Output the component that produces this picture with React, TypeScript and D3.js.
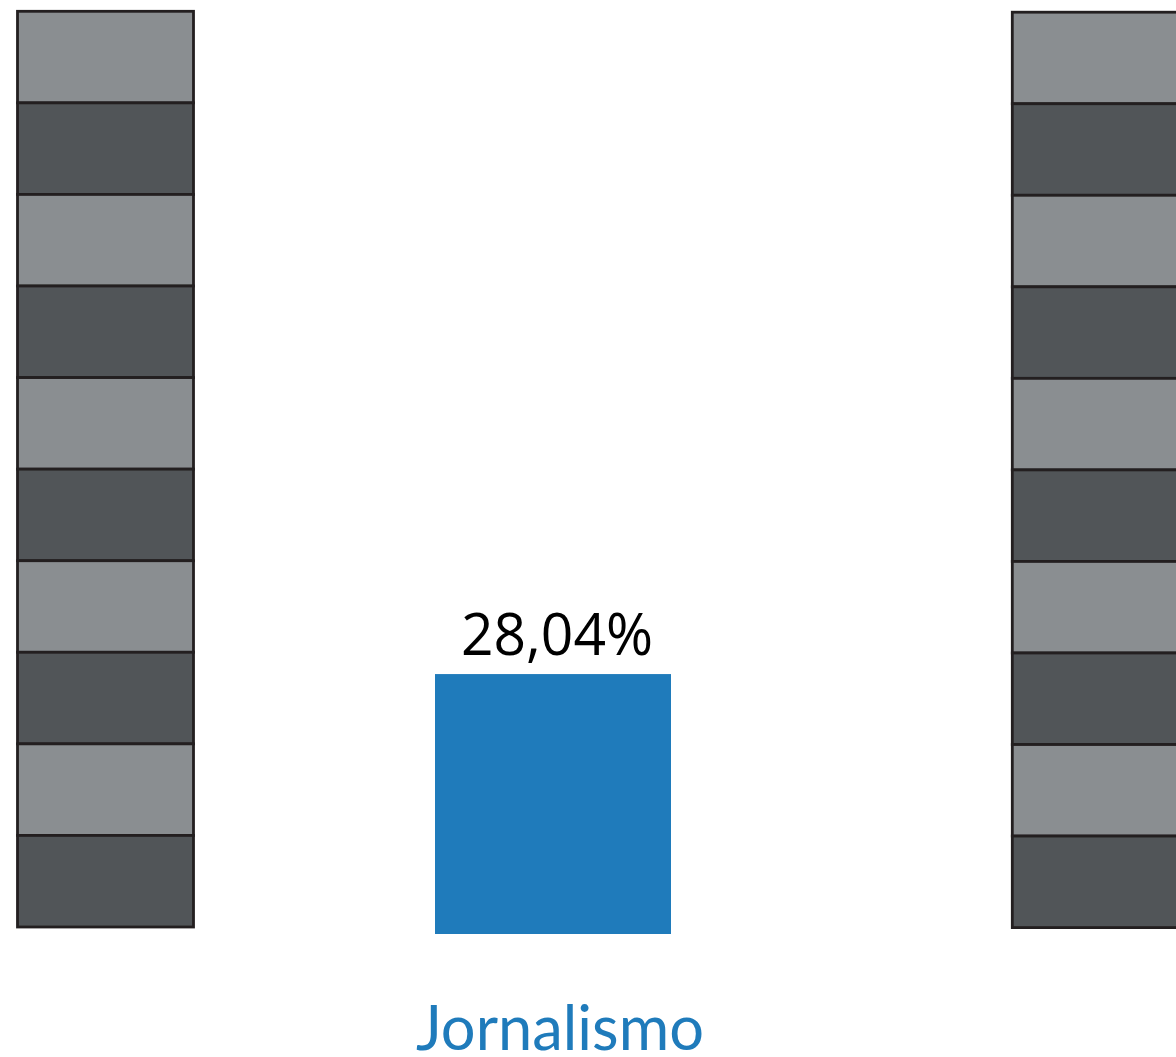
import React from "react";
import * as d3 from "d3";

// Data
const categories = ["Jornalismo"];
const values = [28.04];
const valueLabels = ["28,04%"];
// decorative scale columns: 10 segments, alternating shades (top to bottom)
const segmentShades = ["light", "dark", "light", "dark", "light", "dark", "light", "dark", "light", "dark"];
const scaleColumns = ["left", "right"];

const W = 1176;
const H = 1057;

export default function App() {
  const shadeColor: Record<string, string> = { light: "#8a8e91", dark: "#515558" };

  // Bar scale (0–100%)
  const baseY = 934;
  const y = d3.scaleLinear().domain([0, 100]).range([baseY, baseY - 927]);

  // Segment scale for gray columns
  const segLeft = d3
    .scaleBand<number>()
    .domain(d3.range(segmentShades.length))
    .range([11.3, 927])
    .padding(0);
  const segRight = d3
    .scaleBand<number>()
    .domain(d3.range(segmentShades.length))
    .range([12.2, 927.6])
    .padding(0);

  const colX: Record<string, number> = { left: 17.5, right: 1012.3 };
  const colW = 176;
  const colScale: Record<string, d3.ScaleBand<number>> = { left: segLeft, right: segRight };

  const xBar = d3.scaleBand<string>().domain(categories).range([435, 671]).padding(0);

  return (
    <svg
      width={W}
      height={H}
      style={{ position: "absolute", left: 0, top: 0, background: "#fff" }}
    >
      {scaleColumns.map((c) => (
        <g key={c}>
          {segmentShades.map((s, i) => (
            <rect
              key={i}
              x={colX[c]}
              y={colScale[c](i)}
              width={colW}
              height={colScale[c].bandwidth()}
              fill={shadeColor[s]}
              stroke="#231f20"
              strokeWidth={2.8}
            />
          ))}
        </g>
      ))}
      {categories.map((cat, i) => {
        const x0 = xBar(cat)!;
        const bw = xBar.bandwidth();
        const cx = x0 + bw / 2;
        return (
          <g key={cat}>
            <rect x={x0} y={y(values[i])} width={bw} height={baseY - y(values[i])} fill="#1f7bbb" />
            <text
              x={cx + 4}
              y={y(values[i]) - 19}
              textAnchor="middle"
              fontFamily="'Open Sans', sans-serif"
              fontSize={58}
              fill="#000"
              textLength={192}
              lengthAdjust="spacingAndGlyphs"
            >
              {valueLabels[i]}
            </text>
            <text
              x={cx + 7}
              y={1050}
              textAnchor="middle"
              fontFamily="Lato, sans-serif"
              fontSize={62}
              fill="#1f7bbb"
              textLength={288}
              lengthAdjust="spacingAndGlyphs"
            >
              {cat}
            </text>
          </g>
        );
      })}
    </svg>
  );
}
